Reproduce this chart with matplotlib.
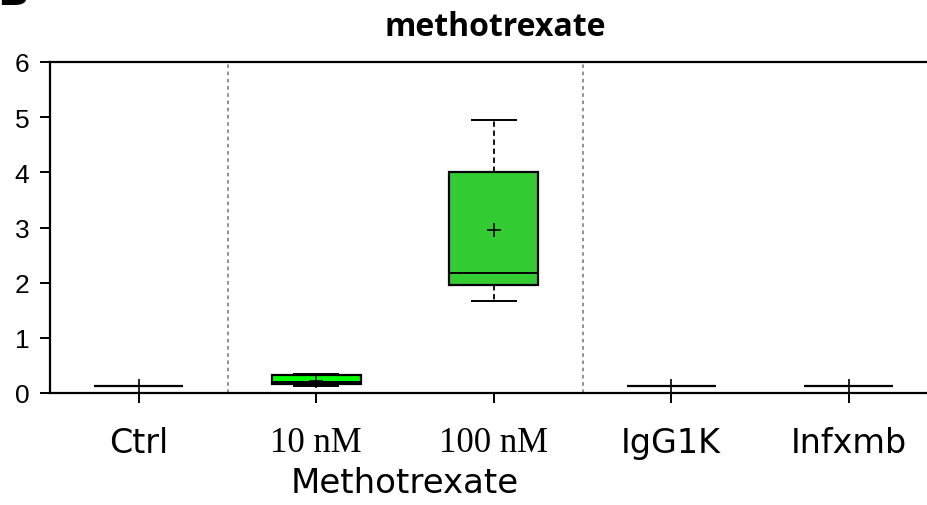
import numpy as np
import matplotlib.pyplot as plt

groups = ["Ctrl", "10 nM", "100 nM", "IgG1K", "Infxmb"]
whislo = [0.13, 0.13, 1.67, 0.13, 0.13]
q1 = [0.13, 0.17, 1.95, 0.13, 0.13]
med = [0.13, 0.20, 2.17, 0.13, 0.13]
q3 = [0.13, 0.33, 4.00, 0.13, 0.13]
whishi = [0.13, 0.35, 4.95, 0.13, 0.13]
means = [0.13, 0.22, 2.95, 0.13, 0.13]
box_colors = ["#00ff00", "#00ff00", "#33cc33", "#33cc33", "#33cc33"]
serif_labels = ["10 nM", "100 nM"]

stats = []
for i, g in enumerate(groups):
    stats.append(dict(label=g, whislo=whislo[i], q1=q1[i], med=med[i],
                      q3=q3[i], whishi=whishi[i], mean=means[i], fliers=[]))

fig = plt.figure(figsize=(9.28, 5.06), dpi=100)
ax = fig.add_axes([50/928, 112/506, 878/928, 331/506])

pos = np.arange(1, len(groups) + 1)
bp = ax.bxp(stats, positions=pos, widths=0.5, showmeans=True, patch_artist=True,
            boxprops=dict(linewidth=1.6, edgecolor="black"),
            medianprops=dict(color="black", linewidth=1.4),
            whiskerprops=dict(color="black", linewidth=1.3, linestyle=(0, (3, 2))),
            capprops=dict(color="black", linewidth=1.4),
            meanprops=dict(marker="+", markeredgecolor="black", markersize=10,
                           markeredgewidth=1.2),
            capwidths=0.25, manage_ticks=False)
for patch, c in zip(bp["boxes"], box_colors):
    patch.set_facecolor(c)

# separators between control, methotrexate doses and antibodies
for xs in [1.5, 3.5]:
    ax.axvline(xs, color="#888888", linestyle=(0, (2, 2)), linewidth=1.3, zorder=0)

ax.set_xlim(0.5, 0.5 + 878/177.5)
ax.set_ylim(0, 6)
ax.set_yticks(range(0, 7))
ax.set_yticklabels([str(v) for v in range(0, 7)], family="Liberation Sans", fontsize=19)
ax.set_xticks(pos)
ax.set_xticklabels(groups, fontsize=24, family="DejaVu Sans")
for lab in ax.get_xticklabels():
    if lab.get_text() in serif_labels:
        lab.set_family("Liberation Serif")
        lab.set_fontsize(25)
ax.tick_params(axis="both", direction="out", length=7, width=1.4)
ax.tick_params(axis="x", pad=17)
ax.tick_params(axis="y", pad=8)
for s in ["left", "bottom", "top"]:
    ax.spines[s].set_linewidth(1.6)
ax.spines["right"].set_visible(False)

ax.text(2.5, -0.22, "Methotrexate", transform=ax.get_xaxis_transform(),
        ha="center", va="top", fontsize=24.5, family="DejaVu Sans")
fig.text(495/928, 1 - 28/506, "methotrexate", ha="center", va="center",
         fontsize=23, fontweight="bold", family="Open Sans")
fig.text(-0.003, 1 - 5/506, "B", ha="left", va="baseline", fontsize=30,
         fontweight="bold", family="DejaVu Sans")

fig.savefig("out.png", dpi=100)
